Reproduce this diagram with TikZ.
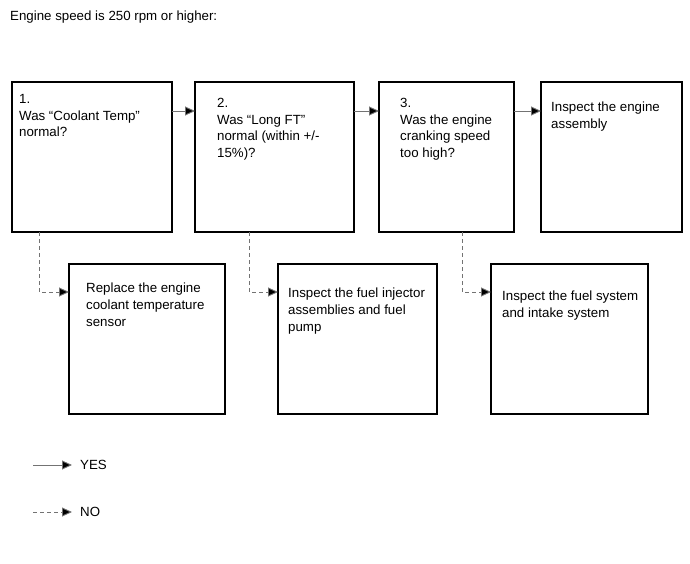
\documentclass[tikz,border=0pt]{standalone}
\usepackage{fontspec}
\setmainfont{Liberation Sans}
\usepackage{tikz}
\usetikzlibrary{arrows.meta, positioning}

\begin{document}
\begin{tikzpicture}[x=1pt, y=1pt,
  stepbox/.style={draw=black, line width=1.2pt, fill=white, inner sep=0pt,
    outer sep=0pt, minimum height=150pt, anchor=north west},
  boxtext/.style={anchor=north west, inner sep=0pt, align=left,
    font=\fontsize{13.3}{16.7}\selectfont},
  yesline/.style={draw=black!55, line width=0.9pt,
    -{Triangle[length=10pt, width=9pt, fill=black]}},
  noline/.style={draw=black!55, line width=0.9pt, dash pattern=on 4pt off 3pt,
    -{Triangle[length=10pt, width=9pt, fill=black, sep=0pt]}}]
  \useasboundingbox (0,0) rectangle (690,-564);

  \node[anchor=base west, inner sep=0pt, font=\fontsize{13.3}{16.7}\selectfont]
    (title) at (10,-20.5) {Engine speed is 250 rpm or higher:};

  % question boxes
  \node[stepbox, minimum width=160pt] (q1) at (12,-82) {};
  \node[stepbox, minimum width=159pt] (q2) at (195,-82) {};
  \node[stepbox, minimum width=135pt] (q3) at (379,-82) {};
  \node[stepbox, minimum width=141pt] (q4) at (541,-82) {};

  % answer boxes
  \node[stepbox, minimum width=156pt] (a1) at (69,-264) {};
  \node[stepbox, minimum width=159pt] (a2) at (278,-264) {};
  \node[stepbox, minimum width=157pt] (a3) at (491,-264) {};

  \node[boxtext] (t1) at ([xshift=7pt, yshift=-12pt]q1.north west)
    {1.\\Was “Coolant Temp”\\normal?};
  \node[boxtext] (t2) at ([xshift=22pt, yshift=-16pt]q2.north west)
    {2.\\Was “Long FT”\\normal (within +/-\\15\%)?};
  \node[boxtext] (t3) at ([xshift=21pt, yshift=-16pt]q3.north west)
    {3.\\Was the engine\\cranking speed\\too high?};
  \node[boxtext] (t4) at ([xshift=10pt, yshift=-20pt]q4.north west)
    {Inspect the engine\\assembly};
  \node[boxtext] (t5) at ([xshift=17pt, yshift=-19pt]a1.north west)
    {Replace the engine\\coolant temperature\\sensor};
  \node[boxtext] (t6) at ([xshift=10pt, yshift=-24pt]a2.north west)
    {Inspect the fuel injector\\assemblies and fuel\\pump};
  \node[boxtext] (t7) at ([xshift=11pt, yshift=-27pt]a3.north west)
    {Inspect the fuel system\\and intake system};

  % yes path
  \draw[yesline] ([yshift=-29pt]q1.north east) -- ([yshift=-29pt]q2.north west);
  \draw[yesline] ([yshift=-29pt]q2.north east) -- ([yshift=-29pt]q3.north west);
  \draw[yesline] ([yshift=-29pt]q3.north east) -- ([yshift=-29pt]q4.north west);

  % no path
  \draw[noline] ([xshift=27pt]q1.south west) |- ([yshift=-28pt]a1.north west);
  \draw[noline] ([xshift=54pt]q2.south west) |- ([yshift=-28pt]a2.north west);
  \draw[noline] ([xshift=83pt]q3.south west) |- ([yshift=-28pt]a3.north west);

  % legend
  \coordinate (yes0) at (33,-465);
  \coordinate (no0) at (33,-512);
  \node[anchor=west, inner sep=0pt, font=\fontsize{13.3}{16.7}\selectfont]
    (yes) at (80,-465) {YES};
  \node[anchor=west, inner sep=0pt, font=\fontsize{13.3}{16.7}\selectfont]
    (no) at (80,-512) {NO};
  \draw[yesline, shorten >=8pt] (yes0) -- (yes.west);
  \draw[noline, shorten >=8pt] (no0) -- (no.west);
\end{tikzpicture}
\end{document}
